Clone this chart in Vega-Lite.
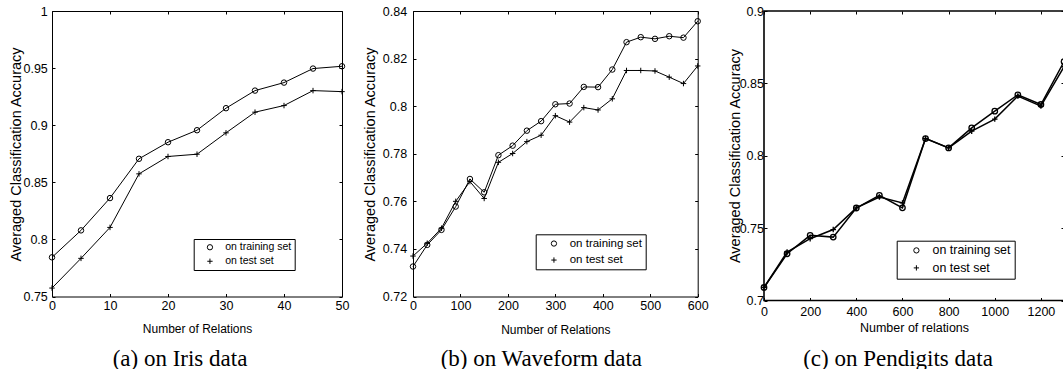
{
  "$schema": "https://vega.github.io/schema/vega-lite/v6.json",
  "background": "white",
  "padding": {"left": 8, "top": 4, "right": 0, "bottom": 0},
  "spacing": 30,
  "bounds": "flush",
  "config": {
    "font": "Liberation Sans",
    "view": {"stroke": "black", "strokeWidth": 1},
    "axis": {
      "grid": false, "domain": false, "tickColor": "black", "tickSize": -3, "tickWidth": 1,
      "labelColor": "black", "titleColor": "black", "labelFontSize": 12.5, "titleFontSize": 12,
      "titleFontWeight": "normal", "labelFont": "Liberation Sans", "titleFont": "Liberation Sans",
      "labelFlush": false, "labelOverlap": false
    }
  },
  "resolve": {"scale": {"shape": "independent"}, "legend": {"shape": "independent"}},
  "datasets": {
    "iris": [
      {"n": 0, "acc": 0.7843, "set": "on training set"},
      {"n": 5, "acc": 0.8079, "set": "on training set"},
      {"n": 10, "acc": 0.8362, "set": "on training set"},
      {"n": 15, "acc": 0.8706, "set": "on training set"},
      {"n": 20, "acc": 0.8851, "set": "on training set"},
      {"n": 25, "acc": 0.8956, "set": "on training set"},
      {"n": 30, "acc": 0.9149, "set": "on training set"},
      {"n": 35, "acc": 0.9303, "set": "on training set"},
      {"n": 40, "acc": 0.9373, "set": "on training set"},
      {"n": 45, "acc": 0.9496, "set": "on training set"},
      {"n": 50, "acc": 0.9516, "set": "on training set"},
      {"n": 0, "acc": 0.7574, "set": "on test set"},
      {"n": 5, "acc": 0.7834, "set": "on test set"},
      {"n": 10, "acc": 0.8105, "set": "on test set"},
      {"n": 15, "acc": 0.8574, "set": "on test set"},
      {"n": 20, "acc": 0.8726, "set": "on test set"},
      {"n": 25, "acc": 0.8746, "set": "on test set"},
      {"n": 30, "acc": 0.8933, "set": "on test set"},
      {"n": 35, "acc": 0.9114, "set": "on test set"},
      {"n": 40, "acc": 0.9172, "set": "on test set"},
      {"n": 45, "acc": 0.9303, "set": "on test set"},
      {"n": 50, "acc": 0.9294, "set": "on test set"}
    ],
    "wave": [
      {"n": 0, "acc": 0.7326, "set": "on training set"},
      {"n": 30, "acc": 0.7417, "set": "on training set"},
      {"n": 60, "acc": 0.748, "set": "on training set"},
      {"n": 90, "acc": 0.7578, "set": "on training set"},
      {"n": 120, "acc": 0.7694, "set": "on training set"},
      {"n": 150, "acc": 0.7638, "set": "on training set"},
      {"n": 180, "acc": 0.7794, "set": "on training set"},
      {"n": 210, "acc": 0.7834, "set": "on training set"},
      {"n": 240, "acc": 0.7897, "set": "on training set"},
      {"n": 270, "acc": 0.7937, "set": "on training set"},
      {"n": 300, "acc": 0.8008, "set": "on training set"},
      {"n": 330, "acc": 0.8011, "set": "on training set"},
      {"n": 360, "acc": 0.8081, "set": "on training set"},
      {"n": 390, "acc": 0.808, "set": "on training set"},
      {"n": 420, "acc": 0.8154, "set": "on training set"},
      {"n": 450, "acc": 0.8269, "set": "on training set"},
      {"n": 480, "acc": 0.829, "set": "on training set"},
      {"n": 510, "acc": 0.8283, "set": "on training set"},
      {"n": 540, "acc": 0.8294, "set": "on training set"},
      {"n": 570, "acc": 0.8288, "set": "on training set"},
      {"n": 600, "acc": 0.8357, "set": "on training set"},
      {"n": 0, "acc": 0.737, "set": "on test set"},
      {"n": 30, "acc": 0.7424, "set": "on test set"},
      {"n": 60, "acc": 0.7487, "set": "on test set"},
      {"n": 90, "acc": 0.76, "set": "on test set"},
      {"n": 120, "acc": 0.7683, "set": "on test set"},
      {"n": 150, "acc": 0.7612, "set": "on test set"},
      {"n": 180, "acc": 0.7764, "set": "on test set"},
      {"n": 210, "acc": 0.7801, "set": "on test set"},
      {"n": 240, "acc": 0.7851, "set": "on test set"},
      {"n": 270, "acc": 0.7878, "set": "on test set"},
      {"n": 300, "acc": 0.796, "set": "on test set"},
      {"n": 330, "acc": 0.7933, "set": "on test set"},
      {"n": 360, "acc": 0.7994, "set": "on test set"},
      {"n": 390, "acc": 0.7984, "set": "on test set"},
      {"n": 420, "acc": 0.8031, "set": "on test set"},
      {"n": 450, "acc": 0.815, "set": "on test set"},
      {"n": 480, "acc": 0.815, "set": "on test set"},
      {"n": 510, "acc": 0.8148, "set": "on test set"},
      {"n": 540, "acc": 0.8122, "set": "on test set"},
      {"n": 570, "acc": 0.8095, "set": "on test set"},
      {"n": 600, "acc": 0.8169, "set": "on test set"}
    ],
    "pen": [
      {"n": 0, "acc": 0.709, "set": "on training set"},
      {"n": 100, "acc": 0.7323, "set": "on training set"},
      {"n": 200, "acc": 0.745, "set": "on training set"},
      {"n": 300, "acc": 0.7438, "set": "on training set"},
      {"n": 400, "acc": 0.7639, "set": "on training set"},
      {"n": 500, "acc": 0.7727, "set": "on training set"},
      {"n": 600, "acc": 0.764, "set": "on training set"},
      {"n": 700, "acc": 0.8119, "set": "on training set"},
      {"n": 800, "acc": 0.8054, "set": "on training set"},
      {"n": 900, "acc": 0.8193, "set": "on training set"},
      {"n": 1000, "acc": 0.8308, "set": "on training set"},
      {"n": 1100, "acc": 0.8421, "set": "on training set"},
      {"n": 1200, "acc": 0.8354, "set": "on training set"},
      {"n": 1300, "acc": 0.865, "set": "on training set"},
      {"n": 0, "acc": 0.709, "set": "on test set"},
      {"n": 100, "acc": 0.7335, "set": "on test set"},
      {"n": 200, "acc": 0.7427, "set": "on test set"},
      {"n": 300, "acc": 0.749, "set": "on test set"},
      {"n": 400, "acc": 0.764, "set": "on test set"},
      {"n": 500, "acc": 0.7715, "set": "on test set"},
      {"n": 600, "acc": 0.7674, "set": "on test set"},
      {"n": 700, "acc": 0.812, "set": "on test set"},
      {"n": 800, "acc": 0.8054, "set": "on test set"},
      {"n": 900, "acc": 0.817, "set": "on test set"},
      {"n": 1000, "acc": 0.8253, "set": "on test set"},
      {"n": 1100, "acc": 0.8412, "set": "on test set"},
      {"n": 1200, "acc": 0.8343, "set": "on test set"},
      {"n": 1300, "acc": 0.8615, "set": "on test set"}
    ]
  },
  "hconcat": [
    {
      "width": 290, "height": 285.5,
      "data": {"name": "iris"},
      "title": {"text": "(a)  on Iris data", "orient": "bottom", "frame": "group", "anchor": "middle", "baseline": "top", "offset": 13, "dx": -17, "font": "Liberation Serif", "fontSize": 23, "fontWeight": "normal", "color": "black"},
      "resolve": {"axis": {"x": "independent", "y": "independent"}},
      "layer": [
        {
          "mark": {"type": "line", "color": "black", "strokeWidth": 1},
          "encoding": {
            "x": {"field": "n", "type": "quantitative", "scale": {"domain": [0, 50], "nice": false, "zero": false},
                  "axis": {"orient": "bottom", "values": [0, 10, 20, 30, 40, 50], "format": "d", "labelPadding": 6, "title": "Number of Relations", "titleY": 32, "titleBaseline": "middle"}},
            "y": {"field": "acc", "type": "quantitative", "scale": {"domain": [0.75, 1], "nice": false, "zero": false},
                  "axis": {"orient": "left", "values": [0.75, 0.8, 0.85, 0.9, 0.95, 1], "format": ".2~f", "labelPadding": 7.7, "title": "Averaged Classification Accuracy", "titleFontSize": 14.5, "titleX": -35.5, "titleY": 143, "titleBaseline": "middle"}},
            "detail": {"field": "set"}
          }
        },
        {
          "mark": {"type": "point", "filled": false, "color": "black", "strokeWidth": 1, "opacity": 1, "size": 30},
          "encoding": {
            "x": {"field": "n", "type": "quantitative", "scale": {"domain": [0, 50], "nice": false, "zero": false},
                  "axis": {"orient": "top", "values": [0, 10, 20, 30, 40, 50], "labels": false, "title": null}},
            "y": {"field": "acc", "type": "quantitative", "scale": {"domain": [0.75, 1], "nice": false, "zero": false},
                  "axis": {"orient": "right", "values": [0.75, 0.8, 0.85, 0.9, 0.95, 1], "labels": false, "title": null}},
            "shape": {"field": "set", "type": "nominal",
                      "scale": {"domain": ["on training set", "on test set"], "range": ["circle", "M-1,0L1,0M0,-1L0,1"]},
                      "legend": {"title": null, "orient": "none", "legendX": 141.7, "legendY": 228, "strokeColor": "black", "fillColor": "white", "padding": 3, "symbolOffset": 8, "labelOffset": 10, "rowPadding": 3, "labelFont": "Liberation Sans", "labelFontSize": 10.5, "labelColor": "black", "symbolSize": 28, "symbolStrokeColor": "black", "symbolStrokeWidth": 1}}
          }
        }
      ]
    },
    {
      "width": 10.7, "height": 285.5,
      "data": {"values": []},
      "mark": "point",
      "view": {"stroke": null}
    },
    {
      "width": 284.7, "height": 285.5,
      "data": {"name": "wave"},
      "title": {"text": "(b)  on Waveform data", "orient": "bottom", "frame": "group", "anchor": "middle", "baseline": "top", "offset": 12, "dx": -14, "font": "Liberation Serif", "fontSize": 23, "fontWeight": "normal", "color": "black"},
      "resolve": {"axis": {"x": "independent", "y": "independent"}},
      "layer": [
        {
          "mark": {"type": "line", "color": "black", "strokeWidth": 1},
          "encoding": {
            "x": {"field": "n", "type": "quantitative", "scale": {"domain": [0, 600], "nice": false, "zero": false},
                  "axis": {"orient": "bottom", "values": [0, 100, 200, 300, 400, 500, 600], "format": "d", "labelPadding": 6, "title": "Number of Relations", "titleY": 33, "titleBaseline": "middle"}},
            "y": {"field": "acc", "type": "quantitative", "scale": {"domain": [0.72, 0.84], "nice": false, "zero": false},
                  "axis": {"orient": "left", "values": [0.72, 0.74, 0.76, 0.78, 0.8, 0.82, 0.84], "format": ".2~f", "labelPadding": 9.3, "title": "Averaged Classification Accuracy", "titleFontSize": 14.5, "titleX": -42.5, "titleY": 143, "titleBaseline": "middle"}},
            "detail": {"field": "set"}
          }
        },
        {
          "mark": {"type": "point", "filled": false, "color": "black", "strokeWidth": 1, "opacity": 1, "size": 30},
          "encoding": {
            "x": {"field": "n", "type": "quantitative", "scale": {"domain": [0, 600], "nice": false, "zero": false},
                  "axis": {"orient": "top", "values": [0, 100, 200, 300, 400, 500, 600], "labels": false, "title": null}},
            "y": {"field": "acc", "type": "quantitative", "scale": {"domain": [0.72, 0.84], "nice": false, "zero": false},
                  "axis": {"orient": "right", "values": [0.72, 0.74, 0.76, 0.78, 0.8, 0.82, 0.84], "labels": false, "title": null}},
            "shape": {"field": "set", "type": "nominal",
                      "scale": {"domain": ["on training set", "on test set"], "range": ["circle", "M-1,0L1,0M0,-1L0,1"]},
                      "legend": {"title": null, "orient": "none", "legendX": 122.7, "legendY": 223.3, "strokeColor": "black", "fillColor": "white", "padding": 3.5, "symbolOffset": 9, "labelOffset": 10, "rowPadding": 3.5, "labelFont": "Liberation Sans", "labelFontSize": 11.5, "labelColor": "black", "symbolSize": 28, "symbolStrokeColor": "black", "symbolStrokeWidth": 1}}
          }
        }
      ]
    },
    {
      "width": 5.6, "height": 285.5,
      "data": {"values": []},
      "mark": "point",
      "view": {"stroke": null}
    },
    {
      "width": 300, "height": 289.5,
      "data": {"name": "pen"},
      "view": {"stroke": "black", "strokeWidth": 1.6},
      "title": {"text": "(c)  on Pendigits data", "orient": "bottom", "frame": "group", "anchor": "middle", "baseline": "top", "offset": 14, "dx": -16, "font": "Liberation Serif", "fontSize": 23, "fontWeight": "normal", "color": "black"},
      "resolve": {"axis": {"x": "independent", "y": "independent"}},
      "layer": [
        {
          "mark": {"type": "line", "color": "black", "strokeWidth": 1.5},
          "encoding": {
            "x": {"field": "n", "type": "quantitative", "scale": {"domain": [0, 1300], "nice": false, "zero": false},
                  "axis": {"orient": "bottom", "values": [0, 200, 400, 600, 800, 1000, 1200], "format": "d", "labelPadding": 8, "title": "Number of relations", "titleY": 26.5, "titleBaseline": "middle", "titleFontSize": 12.5}},
            "y": {"field": "acc", "type": "quantitative", "scale": {"domain": [0.7, 0.9], "nice": false, "zero": false},
                  "axis": {"orient": "left", "values": [0.7, 0.75, 0.8, 0.85, 0.9], "format": ".2~f", "labelPadding": 3.5, "title": "Averaged Classification Accuracy", "titleFontSize": 14.5, "titleX": -29, "titleY": 144.5, "titleBaseline": "middle"}},
            "detail": {"field": "set"}
          }
        },
        {
          "mark": {"type": "point", "filled": false, "color": "black", "strokeWidth": 1.3, "opacity": 1, "size": 30},
          "encoding": {
            "x": {"field": "n", "type": "quantitative", "scale": {"domain": [0, 1300], "nice": false, "zero": false},
                  "axis": {"orient": "top", "values": [0, 200, 400, 600, 800, 1000, 1200], "labels": false, "title": null}},
            "y": {"field": "acc", "type": "quantitative", "scale": {"domain": [0.7, 0.9], "nice": false, "zero": false},
                  "axis": {"orient": "right", "values": [0.7, 0.75, 0.8, 0.85, 0.9], "labels": false, "title": null}},
            "shape": {"field": "set", "type": "nominal",
                      "scale": {"domain": ["on training set", "on test set"], "range": ["circle", "M-1,0L1,0M0,-1L0,1"]},
                      "legend": {"title": null, "orient": "none", "legendX": 132.7, "legendY": 229.7, "strokeColor": "black", "fillColor": "white", "padding": 3.5, "symbolOffset": 10, "labelOffset": 10, "rowPadding": 4.5, "labelFont": "Liberation Sans", "labelFontSize": 12.4, "labelColor": "black", "symbolSize": 28, "symbolStrokeColor": "black", "symbolStrokeWidth": 1}}
          }
        }
      ]
    }
  ]
}
